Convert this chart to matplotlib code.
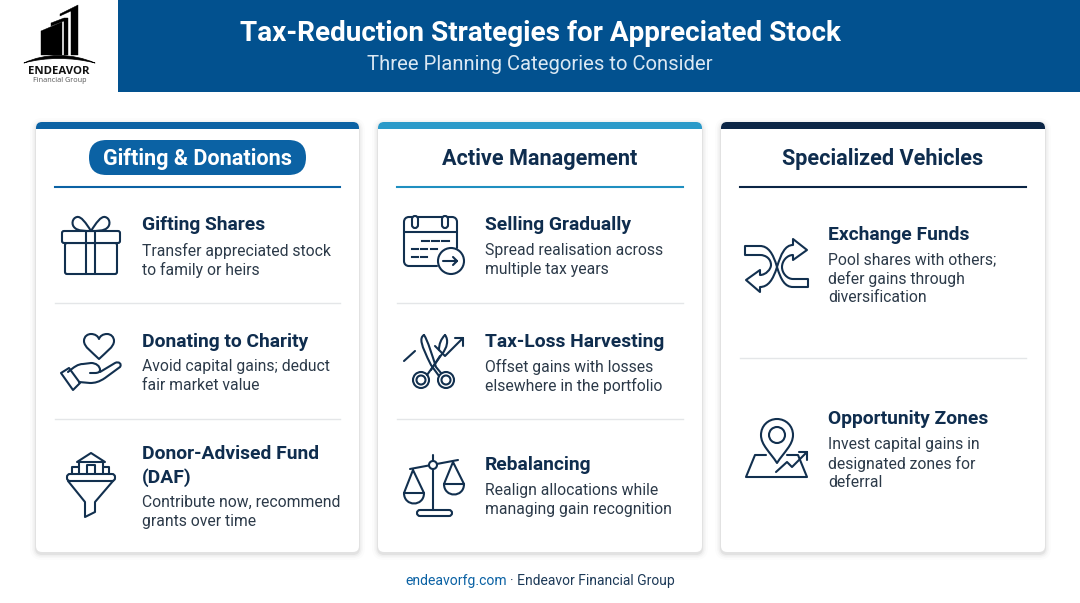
import re
import matplotlib
matplotlib.use("Agg")
import matplotlib.pyplot as plt
from matplotlib.patches import Rectangle, FancyBboxPatch, Circle, PathPatch
from matplotlib.path import Path

plt.rcParams['font.family'] = ['Roboto', 'DejaVu Sans']

NAVY = "#12304f"
HEADER = "#02518f"
BLUE = "#0b62a4"
BODY = "#2c3a49"

title_text = "Tax-Reduction Strategies for Appreciated Stock"
subtitle_text = "Three Planning Categories to Consider"
card_titles = ["Gifting & Donations", "Active Management", "Specialized Vehicles"]
card_colors = [BLUE, "#2b9ac9", "#0b2545"]
item_titles = [
    ["Gifting Shares", "Donating to Charity", "Donor-Advised Fund\n(DAF)"],
    ["Selling Gradually", "Tax-Loss Harvesting", "Rebalancing"],
    ["Exchange Funds", "Opportunity Zones"],
]
item_bodies = [
    ["Transfer appreciated stock\nto family or heirs",
     "Avoid capital gains; deduct\nfair market value",
     "Contribute now, recommend\ngrants over time"],
    ["Spread realisation across\nmultiple tax years",
     "Offset gains with losses\nelsewhere in the portfolio",
     "Realign allocations while\nmanaging gain recognition"],
    ["Pool shares with others;\ndefer gains through\ndiversification",
     "Invest capital gains in\ndesignated zones for\ndeferral"],
]
footer_link = "endeavorfg.com"
footer_rest = "· Endeavor Financial Group"

fig = plt.figure(figsize=(10.8, 6.03), dpi=100)
ax = fig.add_axes([0, 0, 1, 1])
ax.set_xlim(0, 1080)
ax.set_ylim(603, 0)
ax.axis("off")


def svg(d, fc="none", ec=NAVY, lw=1.5, z=5):
    # tiny svg-ish path reader, absolute coords only
    verts, codes = [], []
    toks = re.findall(r"[MLCZ]|-?[\d.]+", d)
    i = 0
    while i < len(toks):
        t = toks[i]
        if t in "ML":
            verts.append((float(toks[i + 1]), float(toks[i + 2])))
            codes.append(Path.MOVETO if t == "M" else Path.LINETO)
            i += 3
        elif t == "C":
            for k in range(3):
                verts.append((float(toks[i + 1 + 2 * k]), float(toks[i + 2 + 2 * k])))
                codes.append(Path.CURVE4)
            i += 7
        else:  # Z
            verts.append(verts[-1])
            codes.append(Path.CLOSEPOLY)
            i += 1
    ax.add_patch(PathPatch(Path(verts, codes), fc=fc, ec=ec, lw=lw, zorder=z,
                           capstyle="round", joinstyle="round"))


def box(x0, y0, x1, y1, r=2, fc="none", ec=NAVY, lw=1.5, z=5):
    p = FancyBboxPatch((x0 + r, y0 + r), x1 - x0 - 2 * r, y1 - y0 - 2 * r,
                       boxstyle=f"round,pad={r},rounding_size={r}", fc=fc, ec=ec, lw=lw, zorder=z)
    ax.add_patch(p)
    return p


def ring(x, y, r, fc="none"):
    ax.add_patch(Circle((x, y), r, fc=fc, ec=NAVY, lw=1.5, zorder=5))


def dashes(x0, x1, y, n):
    step = (x1 - x0) / n
    for k in range(n):
        ax.plot([x0 + k * step, x0 + (k + 0.65) * step], [y, y], color=NAVY, lw=1.5, zorder=5)


def icon_gift():
    box(65, 243, 117, 274)
    box(62, 231, 120, 243, fc="white")
    svg("M86,243 L86,274 M95,243 L95,274 M86,231 L86,243 M95,231 L95,243")
    svg("M91,231 C86,223 81,216 77,217 C72,218 71,225 75,228 C78,231 85,231 91,231 Z")
    svg("M91,231 C96,223 101,216 105,217 C110,218 111,225 107,228 C104,231 97,231 91,231 Z")


def icon_hand():
    svg("M99,359 C92,352 84,347 84,341 C84,336 88,334 91,334 C95,334 98,336 99,339 "
        "C100,336 103,334 107,334 C111,334 114,337 114,341 C114,347 106,352 99,359 Z")
    svg("M61,373 L69,368 L80,383 L73,390 Z")
    svg("M68,372 C74,367 78,364 83,364 L91,363 C96,363 100,366 100,370 C100,372 98,373 95,373 L90,373")
    svg("M100,372 L115,363 C119,361 122,364 120,367 L105,378 C99,382 95,383 90,383 L79,382")


def icon_funnel():
    box(67, 474, 115, 481, r=3)
    svg("M68,481 L85,502 L85,517 L95,512 L95,502 L113,481")
    svg("M77,462 L91,453 L105,462 Z M79,462 L79,474 M103,462 L103,474")
    svg("M87,474 L87,465 L95,465 L95,474 M72,474 L72,467 L79,467 M103,467 L109,467 L109,474")


def icon_calendar():
    svg("M437,266 L409,266 C406,266 404,264 404,261 L404,222 C404,219 406,217 409,217 "
        "L452,217 C455,217 457,219 457,222 L457,248 M404,232 L457,232")
    box(412, 216, 418, 228, r=3, fc="white")
    box(442, 216, 448, 228, r=3, fc="white")
    dashes(422, 452, 241, 3)
    dashes(412, 440, 249, 3)
    dashes(412, 430, 257, 2)
    ring(451, 261, 13, fc="white")
    svg("M443,261 L457,261 M453,257 L457,261 L453,265")


def icon_scissors():
    ring(421, 380, 8)
    ring(421, 380, 4.5)
    ring(446, 380, 8)
    ring(446, 380, 4.5)
    svg("M424,335 C419,338 421,345 431,365 L439,376")
    svg("M424,335 C428,341 432,355 436,367 L441,373")
    svg("M445,335 C441,339 439,344 439,350")
    svg("M445,335 C449,340 447,348 442,354 L427,375")
    svg("M440,356 L431,370")
    svg("M404,361 L415,351")
    svg("M435,346 L445,356 L463,338 M455,338 L463,338 L463,346")


def icon_scale():
    svg("M433,455 L433,510 M410,469 L458,460")
    box(417, 510, 452, 516, r=3)
    ring(433, 465, 4, fc="white")
    svg("M413,470 L404,493 M413,470 L424,493 M404,493 L424,493 C424,507 404,507 404,493 Z")
    svg("M453,462 L444,484 M453,462 L464,484 M444,484 L464,484 C464,498 444,498 444,484 Z")


def icon_shuffle():
    # left ribbon, with arrow pointing left
    svg("M745,246 L760,246 C768,246 773,253 777,267 C773,280 768,287 760,287 L760,292 L746,280 "
        "L760,270 L760,275 C766,275 771,269 771,265 C771,259 766,255 760,255 L745,255 Z")
    # right ribbon, with arrow pointing right
    svg("M808,287 L793,287 C785,287 781,280 777,267 C781,254 785,245 793,245 L793,239 L807,250 "
        "L793,260 L793,255 C787,255 782,261 782,267 C782,273 787,279 793,279 L808,279 Z")


def icon_pin():
    svg("M766,455 L755,455 L746,477 L807,477 L798,455 L787,455")
    svg("M777,463 C770,452 761,445 761,435 C761,426 768,419 777,419 "
        "C786,419 793,426 793,435 C793,445 784,452 777,463 Z", fc="white")
    ring(777, 435, 8)
    svg("M776,472 L787,462 L792,467 L807,452 M799,452 L807,452 L807,460")


def icon_logo():
    svg("M41,55 L41,31 L62,22 L62,55 Z", fc="black", ec="black", lw=0.3)
    svg("M51,23 L64,18 L68,18 L68,55 L64,55 L64,21 L51,26 Z", fc="black", ec="black", lw=0.3)
    svg("M60,14 L78,5 L78,55 L71,55 L71,11 L60,16 Z", fc="black", ec="black", lw=0.3)
    svg("M24,63 C45,53 72,53 95,63 C72,57 45,57 24,63 Z", fc="black", ec="black", lw=0.5)


# header band
ax.add_patch(Rectangle((118, 0), 962, 91.5, fc=HEADER, ec="none", zorder=1))
icon_logo()
ax.text(59, 71, "ENDEAVOR", ha="center", va="center", fontsize=8.2, fontweight="bold", color="#111111",
        family=["Open Sans", "DejaVu Sans"])
ax.text(59.5, 81, "Financial Group", ha="center", va="center", fontsize=5.2, color="#555555",
        family=["Open Sans", "DejaVu Sans"])
ax.text(540, 33.5, title_text, ha="center", va="center", fontsize=20.05, fontweight="bold", color="white", zorder=3)
ax.text(540, 64, subtitle_text, ha="center", va="center", fontsize=14.6, color="#dbe8f3", zorder=3)

# three cards
card_lefts = [36, 378, 721]
card_rights = [359, 702, 1045]
for i, (x0, x1) in enumerate(zip(card_lefts, card_rights)):
    for g, a in ((6, 0.012), (4, 0.02), (2.5, 0.03), (1, 0.05)):
        box(x0 - g, 122 - g + 2, x1 + g, 552 + g + 2, r=6 + g, fc="black", ec="none", lw=0, z=2).set_alpha(a)
    box(x0, 122, x1, 552, r=6, fc="white", ec="none", lw=0, z=3)
    band = box(x0, 122, x1, 552, r=6, fc=card_colors[i], ec="none", lw=0, z=4)
    band.set_clip_path(Rectangle((x0, 122), x1 - x0, 7, transform=ax.transData))
    ax.plot([x0 + 19, x1 - 19], [187, 187], color=card_colors[i] if i != 1 else "#1f8fc0", lw=1.5, zorder=4)

box(89, 140, 306, 175, r=17.5, fc=BLUE, ec="none", lw=0, z=4)
title_x = [197.5, 540, 883]
title_colors = ["white", "#0f2d4e", "#0f2d4e"]
for i in range(3):
    ax.text(title_x[i], 159.5, card_titles[i], ha="center", va="center", fontsize=15.6, fontweight="bold",
            color=title_colors[i], zorder=6)

# separators
for x0, x1, y in [(55, 340, 303), (55, 340, 419), (397, 683, 303), (397, 683, 419), (740, 1026, 358)]:
    ax.plot([x0, x1], [y, y], color="#e4e6e8", lw=1, zorder=4)

text_x = [142, 485, 828]
head_y = [[225, 342, 454], [225, 342, 465], [234.5, 419]]
body_y = [[250.5, 366.5, 502.5], [250.5, 366.5, 490.5], [259.5, 444.5]]
LINE_GAP = 19
for c in range(3):
    for k, head in enumerate(item_titles[c]):
        for n, line in enumerate(head.split("\n")):
            ax.text(text_x[c], head_y[c][k] + n * 24, line, ha="left", va="center", fontsize=13.9,
                    fontweight="bold", color="#0f2d4e", zorder=6)
        for n, line in enumerate(item_bodies[c][k].split("\n")):
            ax.text(text_x[c], body_y[c][k] + n * LINE_GAP, line, ha="left", va="center", fontsize=11.3,
                    color=BODY, zorder=6)

icon_gift()
icon_hand()
icon_funnel()
icon_calendar()
icon_scissors()
icon_scale()
icon_shuffle()
icon_pin()

# footer
ax.text(405, 580.5, footer_link, ha="left", va="center", fontsize=10.1, color=BLUE)
ax.text(510, 580.5, footer_rest, ha="left", va="center", fontsize=10.0, color="#1d3a58")

fig.savefig("out.png", dpi=100, facecolor="white")
